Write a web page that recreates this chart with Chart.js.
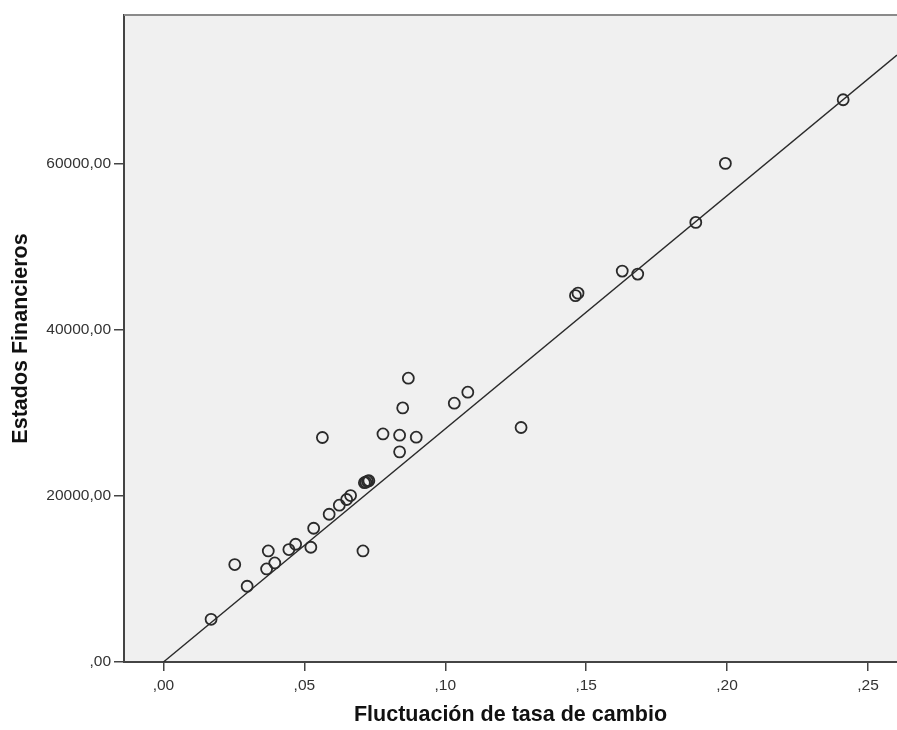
<!DOCTYPE html>
<html>
<head>
<meta charset="utf-8">
<script src="https://cdn.jsdelivr.net/npm/chart.js@4/dist/chart.umd.min.js"></script>
<style>
	body { margin: 0; background: #fff; }
	#wrap { width: 897px; height: 730px; }
</style>
</head>
<body>
<div id="wrap"><canvas id="scatter" width="897" height="730"></canvas></div>
<script>
// Fluctuación de tasa de cambio (x) vs Estados Financieros (y)
var tasaCambio = [
	0.0169, 0.0253, 0.0297, 0.0372, 0.0366, 0.0395, 0.0445, 0.0469, 0.0523, 0.0533,
	0.0588, 0.0624, 0.0650, 0.0664, 0.0708, 0.0713, 0.0718, 0.0724, 0.0729, 0.0564,
	0.0779, 0.0838, 0.0897, 0.0838, 0.0849, 0.0869, 0.1032, 0.1080, 0.1269, 0.1462,
	0.1471, 0.1628, 0.1683, 0.1889, 0.1994, 0.2412
];
var estadosFin = [
	5140, 11730, 9115, 13365, 11200, 11920, 13535, 14170, 13810, 16100,
	17785, 18870, 19555, 20035, 13365, 21580, 21640, 21760, 21820, 27020,
	27450, 27300, 27060, 25290, 30585, 34160, 31150, 32475, 28225, 44095,
	44395, 47045, 46685, 52910, 60010, 67670
];

// tick values
var xTicks = [0, 0.05, 0.10, 0.15, 0.20, 0.25];
var yTicks = [0, 20000, 40000, 60000];

// fit line
var fitSlope = 280600;
var fitIntercept = 0;
var fitFrom = 0;
var fitTo = 0.2603;

var xMin = -0.0140, xMax = 0.2603;
var yMin = 0, yMax = 77870;

var points = [];
tasaCambio.forEach(function(x, i){
	points.push({ x: x, y: estadosFin[i] });
});
var fitLine = [
	{ x: fitFrom, y: fitIntercept + fitSlope * fitFrom },
	{ x: fitTo, y: fitIntercept + fitSlope * fitTo }
];

function fmtX(v) {
	var n = Math.round(v * 100);
	return ',' + (n < 10 ? '0' + n : n);
}
function fmtY(v) {
	return v === 0 ? ',00' : Math.round(v) + ',00';
}

var plotBg = {
	id: 'plotBg',
	beforeDraw: function(chart) {
		var a = chart.chartArea, ctx = chart.ctx;
		ctx.save();
		ctx.fillStyle = '#f0f0f0';
		ctx.fillRect(a.left, a.top, a.right - a.left, a.bottom - a.top);
		ctx.restore();
	},
	afterDraw: function(chart) {
		var a = chart.chartArea, ctx = chart.ctx;
		ctx.save();
		ctx.strokeStyle = '#8a8a8a';
		ctx.lineWidth = 2;
		ctx.beginPath();
		ctx.moveTo(a.left, a.top);
		ctx.lineTo(a.right, a.top);
		ctx.stroke();
		ctx.restore();
	}
};

Chart.defaults.font.family = '"Liberation Sans", Arial, sans-serif';
Chart.defaults.color = '#333';

var ctx = document.getElementById('scatter').getContext('2d');
var chart = new Chart(ctx, {
	type: 'scatter',
	data: {
		datasets: [
			{
				label: 'Estados Financieros',
				data: points,
				pointRadius: 5.5,
				pointHoverRadius: 5.5,
				pointBorderWidth: 1.8,
				pointBorderColor: '#2a2a2a',
				pointBackgroundColor: 'rgba(0,0,0,0)'
			},
			{
				label: 'Ajuste',
				data: fitLine,
				showLine: true,
				borderColor: '#2a2a2a',
				borderWidth: 1.4,
				pointRadius: 0
			}
		]
	},
	options: {
		responsive: false,
		animation: false,
		layout: { autoPadding: false, padding: { top: 15, right: 0, left: 0, bottom: 0 } },
		plugins: { legend: { display: false }, tooltip: { enabled: false } },
		scales: {
			x: {
				type: 'linear',
				min: xMin,
				max: xMax,
				afterFit: function(scale) { scale.height = 68; },
				afterBuildTicks: function(scale) {
					scale.ticks = xTicks.map(function(v){ return { value: v }; });
				},
				ticks: {
					maxRotation: 0,
					autoSkip: false,
					padding: 5,
					font: { size: 15.5 },
					color: '#333',
					callback: function(v) { return fmtX(v); }
				},
				grid: {
					drawOnChartArea: false,
					drawTicks: true,
					tickLength: 9,
					color: '#444',
					lineWidth: 1.5
				},
				border: { color: '#444', width: 2 },
				title: {
					display: true,
					text: 'Fluctuación de tasa de cambio',
					font: { size: 21.5, weight: 'bold' },
					color: '#111',
					padding: { top: 0, bottom: 2 }
				}
			},
			y: {
				type: 'linear',
				min: yMin,
				max: yMax,
				afterFit: function(scale) { scale.width = 124; },
				afterBuildTicks: function(scale) {
					scale.ticks = yTicks.map(function(v){ return { value: v }; });
				},
				ticks: {
					autoSkip: false,
					padding: 3,
					font: { size: 15.5 },
					color: '#333',
					callback: function(v) { return fmtY(v); }
				},
				grid: {
					drawOnChartArea: false,
					drawTicks: true,
					tickLength: 10,
					color: '#444',
					lineWidth: 1.5
				},
				border: { color: '#444', width: 2 },
				title: {
					display: true,
					text: 'Estados Financieros',
					font: { size: 21.5, weight: 'bold' },
					color: '#111',
					padding: { top: 8, bottom: 0 }
				}
			}
		}
	},
	plugins: [plotBg]
});
</script>
</body>
</html>
